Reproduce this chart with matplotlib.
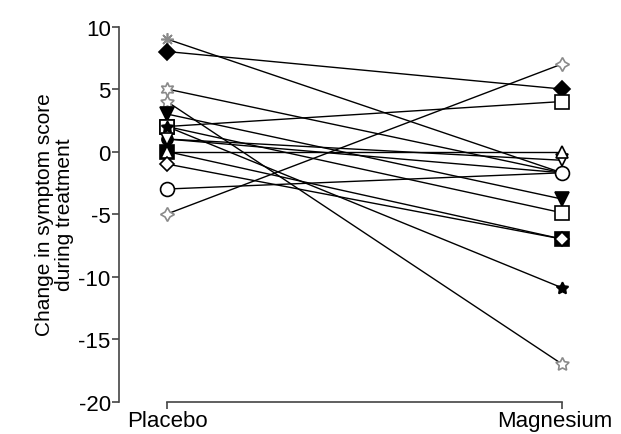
import matplotlib
matplotlib.use("Agg")
from matplotlib import pyplot as plt
from matplotlib.transforms import ScaledTranslation

plt.rcParams['font.family'] = ['Liberation Sans Narrow', 'Liberation Sans', 'DejaVu Sans']

# change in symptom score, one entry per patient
groups = ["Placebo", "Magnesium"]
placebo = [9, 8, 5, 4, 3, 2, 2, 2, 1, 1, 0, 0, -1, -3, -5]
magnesium = [-1.7, 5, -1.7, -17, -3.8, 4, -4.9, -10.9, -1.7, -0.7, -7, 0, -7, -1.7, 7]
yticks = [-20, -15, -10, -5, 0, 5, 10]

grey = "#8a8a8a"
# marker, face, edge, size
styles = [
    ((8, 2, 0), grey, grey, 9),
    ("D", "black", "black", 8),
    ((6, 1, 0), "white", grey, 10),
    ((5, 1, 0), "white", grey, 10),
    ("v", "black", "black", 10),
    ("s", "white", "black", 10),
    ("s", "white", "black", 10),
    ((5, 1, 0), "black", "black", 9),
    ("o", "black", "black", 8),
    ("v", "white", "black", 9),
    ("s", "black", "black", 10),
    ("^", "white", "black", 9),
    ("D", "white", "black", 7),
    ("o", "white", "black", 10),
    ((4, 1, 0), "white", grey, 10),
]

fig = plt.figure(figsize=(6.21, 4.35), dpi=100)
ax = fig.add_axes([0.1916, 0.0747, 0.797, 0.862])

for i in range(len(placebo)):
    ax.plot([0, 1], [placebo[i], magnesium[i]], color="black", lw=1.0, zorder=2)
for i in range(len(placebo)):
    m, fc, ec, s = styles[i]
    ax.plot([0, 1], [placebo[i], magnesium[i]], ls="none", marker=m, ms=s,
            mfc=fc, mec=ec, mew=1.2, zorder=3 + i * 0.01)

ax.set_xlim(-0.1215, 1.1317)
ax.set_ylim(-20, 10)
ax.set_xticks([0, 1])
ax.set_xticklabels(groups, fontsize=16)
ax.set_yticks(yticks)
ax.set_yticklabels([str(v) for v in yticks], fontsize=16)
ax.spines['top'].set_visible(False)
ax.spines['right'].set_visible(False)
ax.spines['bottom'].set_bounds(0, 1)
for sp in ['left', 'bottom']:
    ax.spines[sp].set_color("#444444")
    ax.spines[sp].set_linewidth(1.2)
ax.tick_params(length=5, width=1.2, color="#444444", pad=1)
ax.set_ylabel("Change in symptom score\nduring treatment", fontsize=15, linespacing=1.1, labelpad=3)

# keep "Magnesium" inside the picture
lab = ax.get_xticklabels()[1]
lab.set_transform(lab.get_transform() + ScaledTranslation(-7 / 100, 0, fig.dpi_scale_trans))

fig.savefig("out.png", dpi=100)
